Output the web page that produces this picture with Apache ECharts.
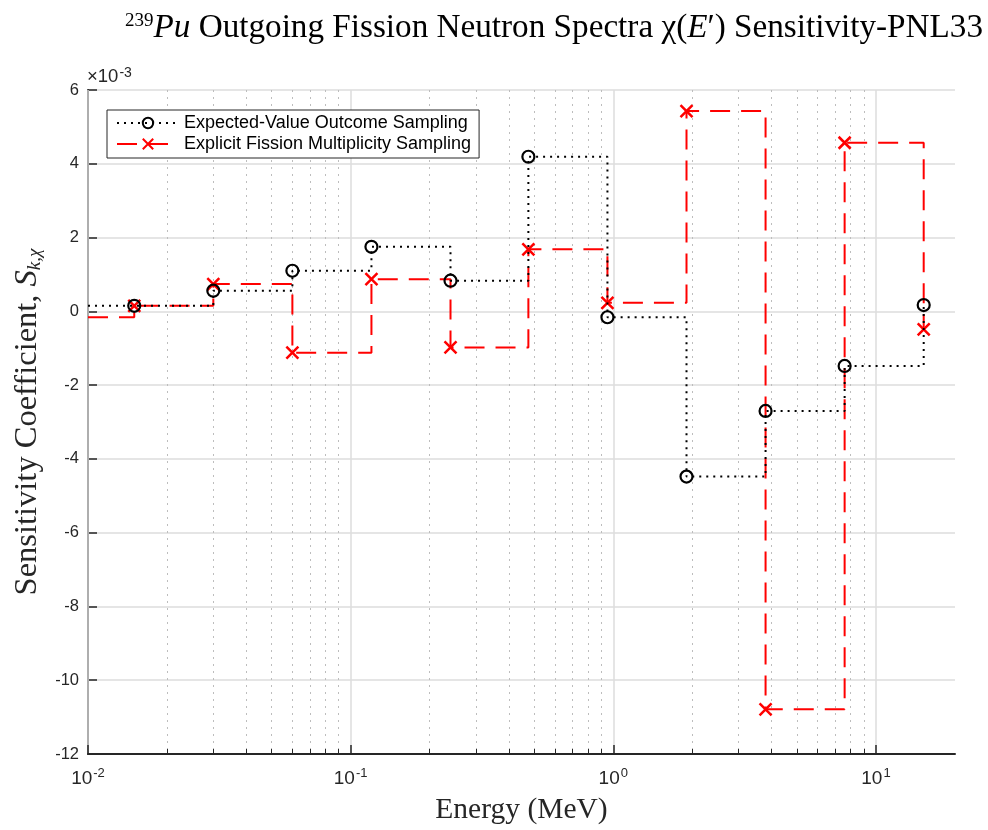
<!DOCTYPE html>
<html><head><meta charset="utf-8">
<script src="https://cdn.jsdelivr.net/npm/echarts@6/dist/echarts.min.js"></script>
<style>html,body{margin:0;padding:0;background:#fff}#c{width:988px;height:830px}</style>
</head><body><div id="c"></div>
<script>
// Energy grid (MeV); first point is the leading edge of the stairs (no marker)
const energyMeV = [0.01, 0.015, 0.03, 0.06, 0.12, 0.24, 0.475, 0.95, 1.9, 3.8, 7.6, 15.2];
// Sensitivity values in units of 1e-3
const expectedValueSampling = [0.15, 0.15, 0.56, 1.10, 1.75, 0.83, 4.19, -0.16, -4.48, -2.70, -1.48, 0.17];
const explicitMultiplicitySampling = [-0.16, 0.15, 0.74, -1.12, 0.87, -0.98, 1.68, 0.23, 5.43, -10.79, 4.57, -0.49];
const seriesNames = ['Expected-Value Outcome Sampling', 'Explicit Fission Multiplicity Sampling'];
const xMajorTicks = [0.01, 0.1, 1, 10];
const xMinorTicks = [0.02,0.03,0.04,0.05,0.06,0.07,0.08,0.09,0.2,0.3,0.4,0.5,0.6,0.7,0.8,0.9,2,3,4,5,6,7,8,9];
const yMin = -12, yMax = 6, yStep = 2;

const sans = 'Liberation Sans';
const serif = 'Liberation Serif';
const axisDark = '#262626';

function toData(vals) {
  return energyMeV.map((e, i) => i === 0 ? { value: [e, vals[i]], symbol: 'none' } : [e, vals[i]]);
}

const chart = echarts.init(document.getElementById('c'), null, { renderer: 'canvas' });
chart.setOption({
  animation: false,
  backgroundColor: '#fff',
  title: {
    left: 120, top: 7,
    text: '{sup|239}{it|Pu} Outgoing Fission Neutron Spectra {n|χ(}{it|E}{n|′)} Sensitivity-PNL33',
    textStyle: {
      fontFamily: serif, fontSize: 33.2, fontWeight: 'normal', color: '#000',
      rich: {
        sup: { fontFamily: serif, fontSize: 19, verticalAlign: 'top', padding: [0,0,12,0], color: '#000' },
        it: { fontFamily: serif, fontSize: 33.2, fontStyle: 'italic', color: '#000' },
        n: { fontFamily: serif, fontSize: 33.2, color: '#000' }
      }
    }
  },
  graphic: [{
    type: 'text', left: 87, top: 66,
    style: {
      text: '{a|×10}{b|-3}', fill: '#262626',
      rich: { a: { fontFamily: sans, fontSize: 18.5, fill: '#262626' }, b: { fontFamily: sans, fontSize: 14, verticalAlign: 'top', padding: [0,0,8,1], fill: '#262626' } }
    }
  }],
  legend: {
    left: 107, top: 110, orient: 'vertical',
    backgroundColor: '#fff', borderColor: axisDark, borderWidth: 1,
    padding: [4, 8, 5, 9], itemGap: 3, itemWidth: 62, itemHeight: 13,
    textStyle: { fontFamily: sans, fontSize: 18, color: '#000' },
    data: seriesNames
  },
  grid: { left: 88, right: 33, top: 90, bottom: 76, containLabel: false, outerBoundsMode: 'none' },
  xAxis: [{
    type: 'log', logBase: 10, min: 0.01, max: 20,
    name: 'Energy (MeV)', nameLocation: 'middle', nameGap: 41,
    nameTextStyle: { fontFamily: serif, fontSize: 29.5, color: '#262626' },
    axisLine: { show: true, onZero: false, lineStyle: { color: axisDark, width: 2 } },
    axisTick: { show: true, inside: true, length: 9, customValues: xMajorTicks, lineStyle: { color: axisDark, width: 1.5 } },
    axisLabel: {
      customValues: xMajorTicks, margin: 13, color: '#262626',
      formatter: v => '{b|10}{s|' + Math.round(Math.log10(v)) + '}',
      rich: { b: { fontFamily: sans, fontSize: 19, color: '#262626' }, s: { fontFamily: sans, fontSize: 13, verticalAlign: 'top', padding: [0,0,10,1], color: '#262626' } }
    },
    splitLine: { show: true, lineStyle: { color: '#dcdcdc', width: 1.5 } },
    z: 3
  }, {
    type: 'log', logBase: 10, min: 0.01, max: 20, position: 'bottom',
    axisLine: { show: false, onZero: false },
    axisTick: { show: true, inside: true, length: 5, customValues: xMinorTicks, lineStyle: { color: axisDark, width: 1 } },
    axisLabel: { show: false, customValues: xMinorTicks },
    splitLine: { show: true, lineStyle: { color: '#bdbdbd', width: 1, type: [2, 5] } }
  }],
  yAxis: {
    type: 'value', min: yMin, max: yMax, interval: yStep,
    name: '{n|Sensitivity Coefficient, }{it|S}{sub|k,χ}', nameLocation: 'middle', nameGap: 43, nameRotate: 90,
    nameTextStyle: {
      fontFamily: serif, fontSize: 32.5, color: '#262626',
      rich: {
        n: { fontFamily: serif, fontSize: 32.5, color: '#262626' },
        it: { fontFamily: serif, fontSize: 32.5, fontStyle: 'italic', color: '#262626' },
        sub: { fontFamily: serif, fontSize: 19, fontStyle: 'italic', verticalAlign: 'bottom', padding: [11,0,0,0], color: '#262626' }
      }
    },
    axisLine: { show: true, lineStyle: { color: axisDark, width: 2 } },
    axisTick: { show: true, inside: true, length: 9, lineStyle: { color: axisDark, width: 1.5 } },
    axisLabel: { fontFamily: sans, fontSize: 16.5, color: '#262626', margin: 9 },
    splitLine: { show: true, lineStyle: { color: '#dcdcdc', width: 1.5 } }
  },
  series: [{
    name: seriesNames[0], type: 'line', step: 'end', xAxisIndex: 0,
    data: toData(expectedValueSampling),
    symbol: 'circle', symbolSize: 12, showSymbol: true,
    itemStyle: { color: 'rgba(255,255,255,0)', borderColor: '#000', borderWidth: 2.2 },
    lineStyle: { color: '#000', width: 2, type: [2, 5] },
    z: 5
  }, {
    name: seriesNames[1], type: 'line', step: 'end', xAxisIndex: 0,
    data: toData(explicitMultiplicitySampling),
    symbol: 'path://M0,0L10,10M10,0L0,10', symbolSize: 12, showSymbol: true,
    itemStyle: { color: 'rgba(255,0,0,0)', borderColor: '#ff0000', borderWidth: 2.5 },
    lineStyle: { color: '#ff0000', width: 2, type: [20, 11] },
    z: 4
  }]
});
</script></body></html>
